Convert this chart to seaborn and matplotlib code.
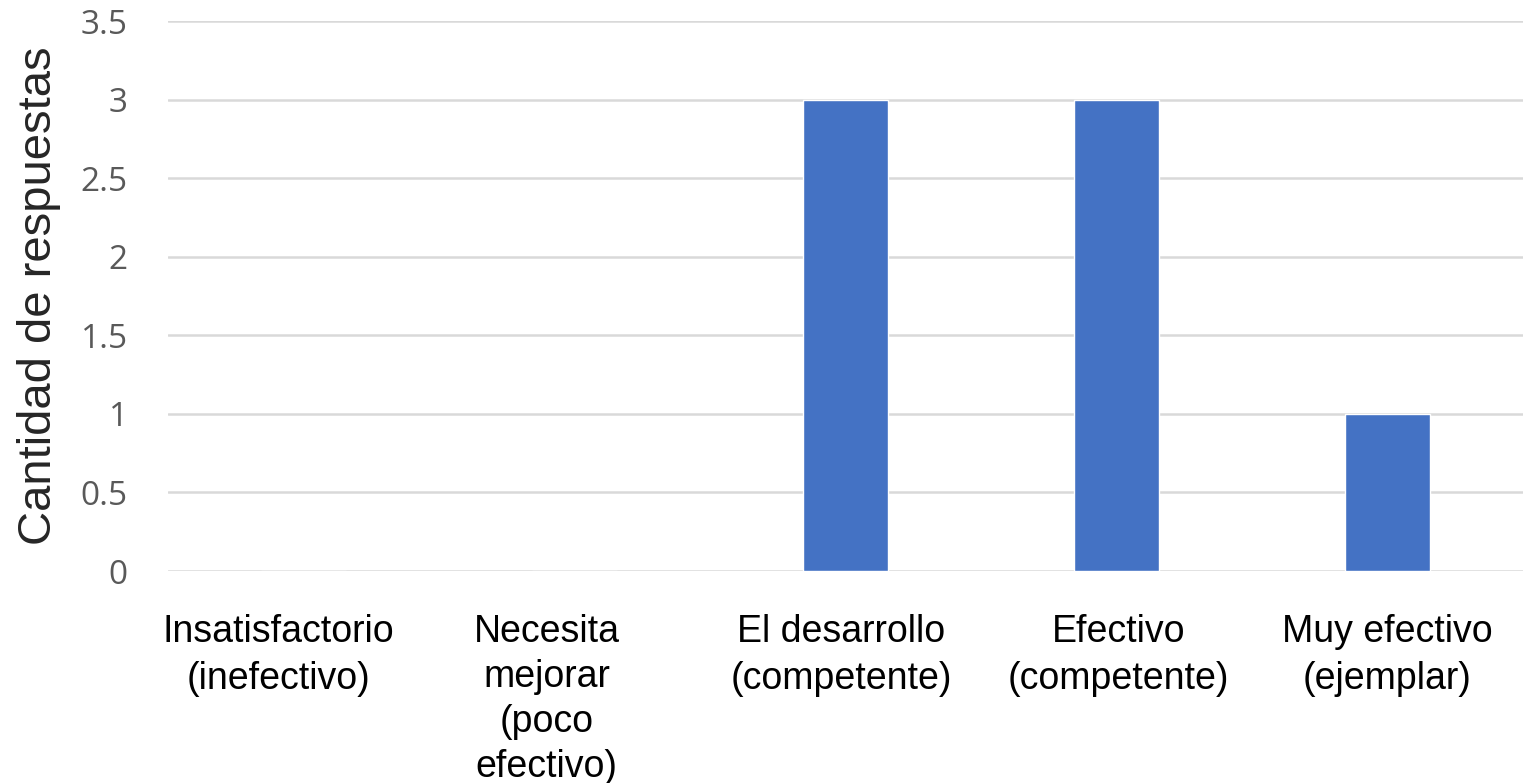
import pandas as pd
import matplotlib.pyplot as plt
import matplotlib.transforms as mtransforms
import seaborn as sns

# Data
categorias = [
    'Insatisfactorio\n(inefectivo)',
    'Necesita\nmejorar\n(poco\nefectivo)',
    'El desarrollo\n(competente)',
    'Efectivo\n(competente)',
    'Muy efectivo\n(ejemplar)',
]
respuestas = [0, 0, 3, 3, 1]
yticks = [0, 0.5, 1, 1.5, 2, 2.5, 3, 3.5]
ytick_labels = ['0', '0.5', '1', '1.5', '2', '2.5', '3', '3.5']

df = pd.DataFrame({'categoria': categorias, 'respuestas': respuestas})

sns.set_style('white')
plt.rcParams['font.family'] = ['Liberation Sans', 'DejaVu Sans']

W, H = 1523, 783
fig = plt.figure(figsize=(W / 100, H / 100), dpi=100)
ax = fig.add_axes([168 / W, 212 / H, 1355 / W, 550 / H])

sns.barplot(data=df, x='categoria', y='respuestas', color='#4472C4',
            width=0.31, saturation=1, ax=ax, zorder=3)

ax.set_ylim(0, 3.5)
ax.set_yticks(yticks)
ax.set_yticklabels(ytick_labels, fontsize=24, color='#595959', family='Open Sans')
ax.yaxis.grid(True, color='#d9d9d9', linewidth=1.8, zorder=0)
ax.set_axisbelow(True)
ax.tick_params(axis='y', length=0, pad=29)
ax.tick_params(axis='x', length=0, pad=31, labelsize=27, labelcolor='black')

# Excel places the first two wrapped labels a bit left of the category centre
shifts_px = [-25, -28, -4, 2, 0]
spacing = [1.38, 1.32, 1.38, 1.38, 1.38]
for lbl, dx, ls in zip(ax.get_xticklabels(), shifts_px, spacing):
    lbl.set_linespacing(ls)
    lbl.set_transform(lbl.get_transform() +
                      mtransforms.ScaledTranslation(dx / 100, 0, fig.dpi_scale_trans))

ax.set_xlabel('')
ax.set_ylabel('Cantidad de respuestas', fontsize=34, labelpad=14)
sns.despine(ax=ax, left=True, bottom=True, top=True, right=True)

fig.savefig('out.png', dpi=100)
